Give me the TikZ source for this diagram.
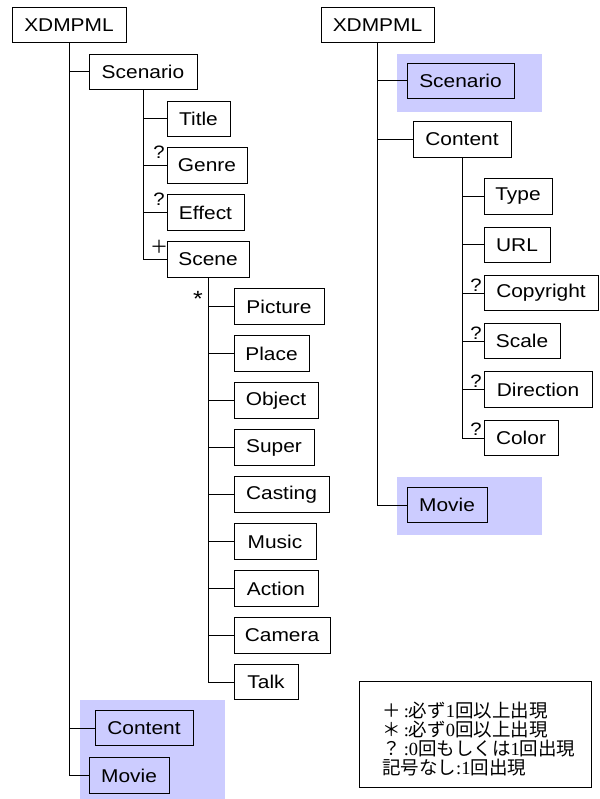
\documentclass[tikz,border=0pt]{standalone}
\usepackage{fontspec}
\setmainfont[FakeStretch=1.13]{Liberation Sans}
\newfontfamily\cjk{Noto Sans CJK JP}
\newfontfamily\lserif{Liberation Serif}
\definecolor{hl}{RGB}{204,204,255}
\newcommand{\sr}[1]{{\lserif #1}}
\begin{document}
\begin{tikzpicture}[x=1pt,y=-1pt,
  box/.style={draw=black, line width=1pt, fill=white, minimum height=35.5pt, inner sep=0pt, font=\fontsize{18.5}{20}\selectfont},
  hbox/.style={box, fill=hl},
  conn/.style={line width=1pt},
  mult/.style={font=\fontsize{18}{18}\selectfont, inner sep=0pt},
  hlrect/.style={fill=hl, draw=none}]
\useasboundingbox (0,0) rectangle (599,799);
\fill[white] (0,0) rectangle (599,799);
% highlights
\fill[hlrect] (80,700) rectangle (225,799);
\fill[hlrect] (397,54) rectangle (542,112);
\fill[hlrect] (397,477) rectangle (542,535);
% left tree
\node[box, minimum width=114pt] (xa) at (69,25) {XDMPML};
\node[box, minimum width=108pt] (scena) at (143,72) {Scenario};
\node[box, minimum width=63pt] (title) at (198.5,119) {Title};
\node[box, minimum width=80pt] (genre) at (207,165.5) {Genre};
\node[box, minimum width=77pt] (effect) at (205.5,212.5) {Effect};
\node[box, minimum width=82pt] (scene) at (208,259.5) {Scene};
\node[box, minimum width=90pt] (picture) at (279,306.5) {Picture};
\node[box, minimum width=75pt] (place) at (271.5,353.5) {Place};
\node[box, minimum width=84pt] (object) at (276,400.5) {Object};
\node[box, minimum width=80pt] (super) at (274,447.5) {Super};
\node[box, minimum width=95pt] (casting) at (281.5,494.5) {Casting};
\node[box, minimum width=82pt] (music) at (275,541.5) {Music};
\node[box, minimum width=84pt] (action) at (276,588.5) {Action};
\node[box, minimum width=96pt] (camera) at (282,635.5) {Camera};
\node[box, minimum width=64pt] (talk) at (266,682) {Talk};
\node[hbox, minimum width=98pt] (contenta) at (144,728) {Content};
\node[hbox, minimum width=80pt] (moviea) at (129,775.5) {Movie};
\foreach \c in {scena,contenta,moviea} \draw[conn] (xa.south) |- (\c.west);
\foreach \c in {title,genre,effect,scene} \draw[conn] (scena.south) |- (\c.west);
\foreach \c in {picture,place,object,super,casting,music,action,camera,talk} \draw[conn] (scene.south) |- (\c.west);
\node[mult] (qgenre) at (159,152) {?};
\node[mult] (qeffect) at (159,199) {?};
\node[mult, font=\cjk\fontsize{18}{18}\selectfont] (pscene) at (159,247) {＋};
\node[mult, font=\fontsize{22}{22}\selectfont] (sscene) at (198,299) {*};
% right tree
\node[box, minimum width=113pt] (xb) at (377.5,25) {XDMPML};
\node[hbox, minimum width=107pt] (scenb) at (460.5,81) {Scenario};
\node[box, minimum width=98pt] (contentb) at (462,139.5) {Content};
\node[box, minimum width=68pt] (type) at (518,196.5) {Type};
\node[box, minimum width=66pt] (url) at (517,245) {URL};
\node[box, minimum width=114pt] (copyright) at (541,293) {Copyright};
\node[box, minimum width=76pt] (scale) at (522,341) {Scale};
\node[box, minimum width=108pt] (direction) at (538,389.5) {Direction};
\node[box, minimum width=74pt] (color) at (521,438) {Color};
\node[hbox, minimum width=80pt] (movieb) at (447,505) {Movie};
\foreach \c in {scenb,contentb,movieb} \draw[conn] (xb.south) |- (\c.west);
\foreach \c in {type,url,copyright,scale,direction,color} \draw[conn] (contentb.south) |- (\c.west);
\node[mult] (qcopy) at (476,285) {?};
\node[mult] (qscale) at (476,333) {?};
\node[mult] (qdir) at (476,381) {?};
\node[mult] (qcolor) at (476,429) {?};
% legend
\node[draw=black, line width=1pt, minimum width=232pt, minimum height=106pt, inner sep=0pt] (legend) at (475,734) {};
\node[anchor=west, align=left, inner sep=0pt, font=\cjk\fontsize{18.5}{19}\selectfont] (legendtext) at (382,739.5)
 {＋\sr{\,:}必ず\sr{1}回以上出現\\
  ＊\sr{\,:}必ず\sr{0}回以上出現\\
  ？\sr{\,:0}回もしくは\sr{1}回出現\\
  記号なし\sr{:1}回出現};
\end{tikzpicture}
\end{document}
